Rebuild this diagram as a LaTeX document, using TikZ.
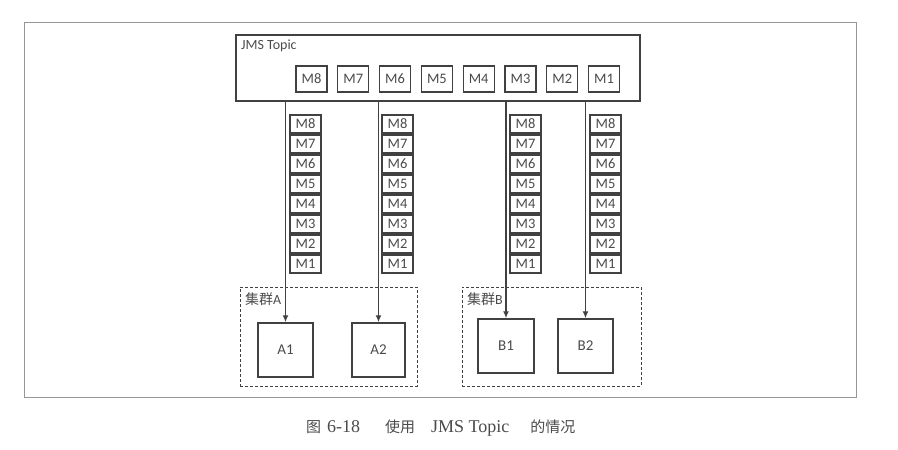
\documentclass[tikz,border=0pt]{standalone}
\usepackage{fontspec}
\setmainfont{Carlito}
\newfontfamily\cjk{Noto Sans CJK SC}
\newfontfamily\capfont{Liberation Serif}
\usepackage{tikz}
\usetikzlibrary{arrows.meta,positioning}
\definecolor{linegray}{RGB}{65,65,65}
\definecolor{textgray}{RGB}{75,75,75}
\definecolor{framegray}{RGB}{150,150,150}

\begin{document}
\begin{tikzpicture}[
  x=1pt, y=-1pt,
  node distance=9.5pt,
  topicbox/.style={rectangle, draw=linegray, line width=1.5pt, minimum width=404pt,
                   minimum height=66pt},
  msg/.style={rectangle, draw=linegray, line width=1.3pt, minimum width=31pt,
              minimum height=26pt, inner sep=0pt, text=textgray, font=\fontsize{14.5}{14.5}\selectfont},
  stackmsg/.style={rectangle, draw=linegray, line width=1.1pt, minimum width=31pt,
                   minimum height=18pt, inner sep=0pt, text=textgray, font=\fontsize{14.5}{14.5}\selectfont},
  server/.style={rectangle, draw=linegray, line width=1.5pt, minimum width=55pt,
                 minimum height=54pt, text=textgray, font=\fontsize{15}{15}\selectfont},
  cluster/.style={rectangle, draw=linegray, line width=1pt, dash pattern=on 3pt off 2pt,
                  minimum height=99pt},
  arrow/.style={-{Latex[length=7pt,width=6pt]}, draw=linegray, line width=1.6pt},
  lbl/.style={text=textgray, inner sep=0pt, font=\fontsize{14}{14}\selectfont}
]
  \useasboundingbox (0,0) rectangle (898,450);
  \draw[framegray, line width=0.8pt] (24,22) rectangle (856,397);

  % Topic with its messages
  \node[topicbox] (topic) at (438,68) {};
  \node[lbl, anchor=north west] (topiclbl) at (241,40) {JMS Topic};
  \node[msg] (tm8) at (311.5,79) {M8};
  \foreach \i [evaluate=\i as \j using int(\i+1)] in {7,...,1}
    \node[msg, right=of tm\j] (tm\i) {M\i};

  % Message stacks
  \foreach \col/\x in {sa/305.5, sb/397.5, sc/525.5, sd/605.5}
    \foreach \i in {1,...,8}
      \node[stackmsg] (\col\i) at (\x,{264-20*(\i-1)}) {M\i};

  % Clusters and servers
  \node[cluster, minimum width=177pt] (clA) at (328.5,336.5) {};
  \node[cluster, minimum width=179pt] (clB) at (551.5,336.5) {};
  \node[lbl, anchor=west] (clAlbl) at (245,299) {{\cjk 集群}A};
  \node[lbl, anchor=west] (clBlbl) at (467,299) {{\cjk 集群}B};
  \node[server] (A1) at (285.5,350) {A1};
  \node[server, minimum width=53pt] (A2) at (378.5,350) {A2};
  \node[server, minimum width=56pt] (B1) at (506,346) {B1};
  \node[server] (B2) at (585.5,346) {B2};

  % Topic -> subscribers
  \draw[arrow] (topic.south -| A1) -- (A1);
  \draw[arrow] (topic.south -| A2) -- (A2);
  \draw[arrow] (topic.south -| B1) -- (B1);
  \draw[arrow] (topic.south -| B2) -- (B2);

  % Caption
  \node[anchor=west, inner sep=0pt, text=textgray, font=\capfont\fontsize{18}{18}\selectfont]
    (caption) at (306,428) {{\cjk\fontsize{15}{15}\selectfont 图}\hspace{6pt}6-18\hspace{25pt}%
      {\cjk\fontsize{15}{15}\selectfont 使用}\hspace{16pt}JMS Topic\hspace{21pt}%
      {\cjk\fontsize{15}{15}\selectfont 的情况}};
\end{tikzpicture}
\end{document}
